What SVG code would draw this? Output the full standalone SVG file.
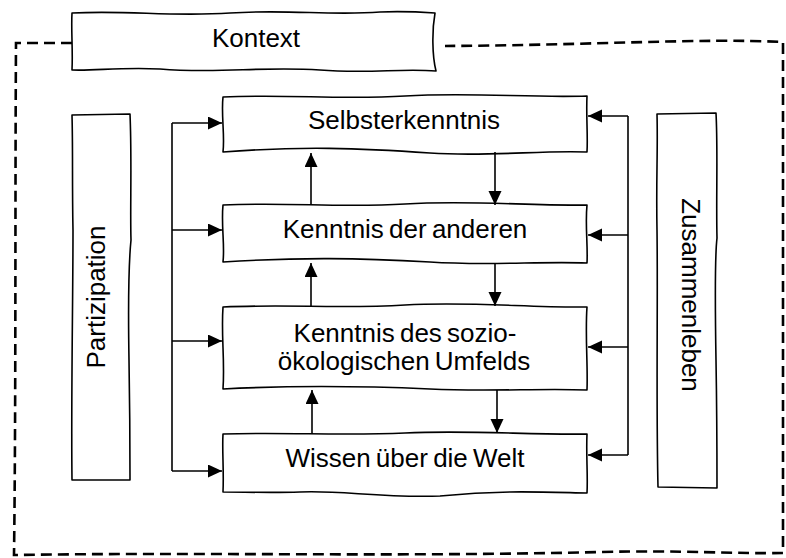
<svg xmlns="http://www.w3.org/2000/svg" width="786" height="558" viewBox="0 0 786 558">
<defs>
<marker id="ah" markerUnits="userSpaceOnUse" markerWidth="16" markerHeight="14" refX="14" refY="6.5" orient="auto">
<path d="M0,0 L14,6.5 L0,13 Z" fill="#000"/>
</marker>
</defs>
<style>
.box{fill:#fff;stroke:#000;stroke-width:1.6;stroke-linejoin:round}
.lbl{font-family:"Liberation Sans",Arial,sans-serif;font-size:26px;fill:#000;text-anchor:middle;word-spacing:-2px}
.con{fill:none;stroke:#000;stroke-width:1.6}
.arr{fill:none;stroke:#000;stroke-width:1.6;marker-end:url(#ah)}
.dash{fill:none;stroke:#000;stroke-width:2.6;stroke-dasharray:11 6}
</style>
<rect width="786" height="558" fill="#fff"/>
<g id="border">
<path class="dash" d="M72,43 L16,43 C15,200 16,400 14,555 C200,552 400,557 600,552 C680,550 740,554 783,553 L783,42 C700,38 600,45 445,46"/>
</g>
<g id="kontext">
<path class="box" d="M72,13 C130,10 170,17 230,13 C290,9 330,16 380,12 C405,11 420,12 435,13 C432,30 432,55 436,71 C400,68 370,74 320,70 C260,66 220,74 160,69 C120,67 95,71 72,70 C73,50 71,30 72,13 Z"/>
<text class="lbl" x="256" y="47">Kontext</text>
</g>
<g id="partizipation">
<path class="box" d="M72,115 L130,114 C132,160 130,210 131,240 C129,260 128,300 129,360 C130,420 130,450 130,480 L72,480 C71,400 73,300 73,230 C72,180 73,150 72,115 Z"/>
<text class="lbl" transform="translate(105,297) rotate(-90)">Partizipation</text>
</g>
<g id="zusammenleben">
<path class="box" d="M657,114 L716,113 C718,150 716,200 717,238 C715,255 715,300 716,360 C717,420 717,455 717,488 L658,487 C656,400 658,300 657,230 C656,180 658,150 657,114 Z"/>
<text class="lbl" transform="translate(682,295) rotate(90)">Zusammenleben</text>
</g>
<g id="selbsterkenntnis">
<path class="box" d="M223,97 C290,94 340,100 405,96 C470,92 530,98 587,96 C586,115 588,135 587,152 C540,150 490,157 430,153 C360,148 300,146 223,152 C225,135 221,115 223,97 Z"/>
<text class="lbl" x="404" y="129">Selbsterkenntnis</text>
</g>
<g id="anderen">
<path class="box" d="M223,205 C290,202 340,208 405,204 C470,200 530,206 587,205 C585,225 588,245 587,263 C540,261 490,266 430,262 C360,258 300,257 223,262 C225,245 221,225 223,205 Z"/>
<text class="lbl" x="405" y="238">Kenntnis der anderen</text>
</g>
<g id="sozio">
<path class="box" d="M223,307 C290,304 340,309 405,305 C470,301 530,308 587,307 C585,335 588,365 587,390 C540,388 490,392 430,389 C360,386 300,385 223,389 C225,360 221,335 223,307 Z"/>
<text class="lbl" x="405" y="342">Kenntnis des sozio-</text>
<text class="lbl" x="404" y="370">ökologischen Umfelds</text>
</g>
<g id="wissen">
<path class="box" d="M223,434 C290,432 340,436 405,433 C470,430 530,435 587,434 C586,455 588,475 587,493 C540,492 500,490 440,496 C380,498 340,490 300,492 C270,493 245,492 223,492 C224,470 222,450 223,434 Z"/>
<text class="lbl" x="405" y="467">Wissen über die Welt</text>
</g>
<g id="connectors">
<path class="con" d="M172,123 L172,471"/>
<path class="arr" d="M172,123 L222,123"/>
<path class="arr" d="M172,230 L222,230"/>
<path class="arr" d="M172,341 L222,341"/>
<path class="arr" d="M172,471 L222,471"/>
<path class="con" d="M628,116 L628,455"/>
<path class="arr" d="M628,116 L588,116"/>
<path class="arr" d="M628,235 L588,235"/>
<path class="arr" d="M628,347 L588,347"/>
<path class="arr" d="M628,455 L588,455"/>
<path class="arr" d="M311,205 L311,153"/>
<path class="arr" d="M311,307 L311,263"/>
<path class="arr" d="M312,434 L312,390"/>
<path class="arr" d="M495,152 L495,205"/>
<path class="arr" d="M495,263 L495,306"/>
<path class="arr" d="M497,390 L497,433"/>
</g>
</svg>
